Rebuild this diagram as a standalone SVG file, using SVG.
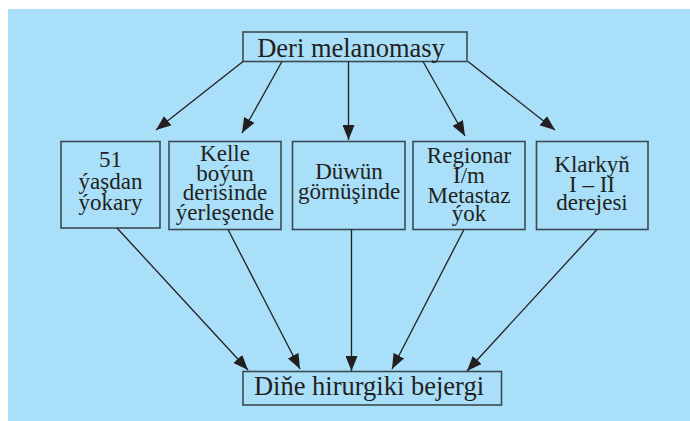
<svg xmlns="http://www.w3.org/2000/svg" width="690" height="421" viewBox="0 0 690 421">
  <style>
    .box { fill: none; stroke: #3c4a52; stroke-width: 1.6; }
    .t { font-family: "Liberation Serif", "Times New Roman", serif; fill: #231f20; text-anchor: middle; }
    .big { font-size: 26.5px; }
    .mid { font-size: 23px; }
    .conn line { stroke: #231f20; stroke-width: 1.3; marker-end: url(#ah); }
  </style>
  <defs>
    <marker id="ah" markerUnits="userSpaceOnUse" markerWidth="16" markerHeight="12" refX="15" refY="6" orient="auto">
      <path d="M0,0 L15,6 L0,12 Z" fill="#231f20"/>
    </marker>
  </defs>
  <rect x="8" y="9" width="682" height="412" fill="#a9dff9"/>

  <g id="top">
    <rect class="box" x="243" y="32" width="224" height="29.5"/>
    <text class="t big" x="351" y="57">Deri melanomasy</text>
  </g>

  <g id="n1">
    <rect class="box" x="61" y="141.5" width="99" height="86.5"/>
    <text class="t mid" x="110.5" y="167">51</text>
    <text class="t mid" x="110.5" y="189">ýaşdan</text>
    <text class="t mid" x="110.5" y="210">ýokary</text>
  </g>
  <g id="n2">
    <rect class="box" x="169" y="141.5" width="112" height="88"/>
    <text class="t mid" x="225" y="160.5">Kelle</text>
    <text class="t mid" x="225" y="180.5">boýun</text>
    <text class="t mid" x="225" y="200">derisinde</text>
    <text class="t mid" x="225" y="220">ýerleşende</text>
  </g>
  <g id="n3">
    <rect class="box" x="292.5" y="141.5" width="112.5" height="88"/>
    <text class="t mid" x="349" y="179">Düwün</text>
    <text class="t mid" x="349" y="199">görnüşinde</text>
  </g>
  <g id="n4">
    <rect class="box" x="413" y="141.5" width="112" height="88"/>
    <text class="t mid" x="469" y="163">Regionar</text>
    <text class="t mid" x="469" y="183">I/m</text>
    <text class="t mid" x="469" y="202.5">Metastaz</text>
    <text class="t mid" x="469" y="220.5">ýok</text>
  </g>
  <g id="n5">
    <rect class="box" x="536.5" y="141.5" width="111.5" height="88"/>
    <text class="t mid" x="592" y="171.5">Klarkyň</text>
    <text class="t mid" x="592" y="192">I – II</text>
    <text class="t mid" x="592" y="210">derejesi</text>
  </g>

  <g id="bottom">
    <rect class="box" x="243" y="371.5" width="258.5" height="33.5"/>
    <text class="t big" x="369" y="395">Diňe hirurgiki bejergi</text>
  </g>

  <g id="connectors" class="conn">
    <line x1="243" y1="61.5" x2="156" y2="130"/>
    <line x1="282" y1="61.5" x2="242" y2="133"/>
    <line x1="348.5" y1="61.5" x2="348.5" y2="140"/>
    <line x1="423" y1="61.5" x2="465" y2="136"/>
    <line x1="468" y1="61.5" x2="555" y2="130"/>
    <line x1="117" y1="228" x2="248" y2="370"/>
    <line x1="228" y1="229.5" x2="300" y2="369"/>
    <line x1="351.5" y1="229.5" x2="351.5" y2="371"/>
    <line x1="464" y1="229.5" x2="392" y2="369"/>
    <line x1="597" y1="229.5" x2="467" y2="371"/>
  </g>
</svg>
